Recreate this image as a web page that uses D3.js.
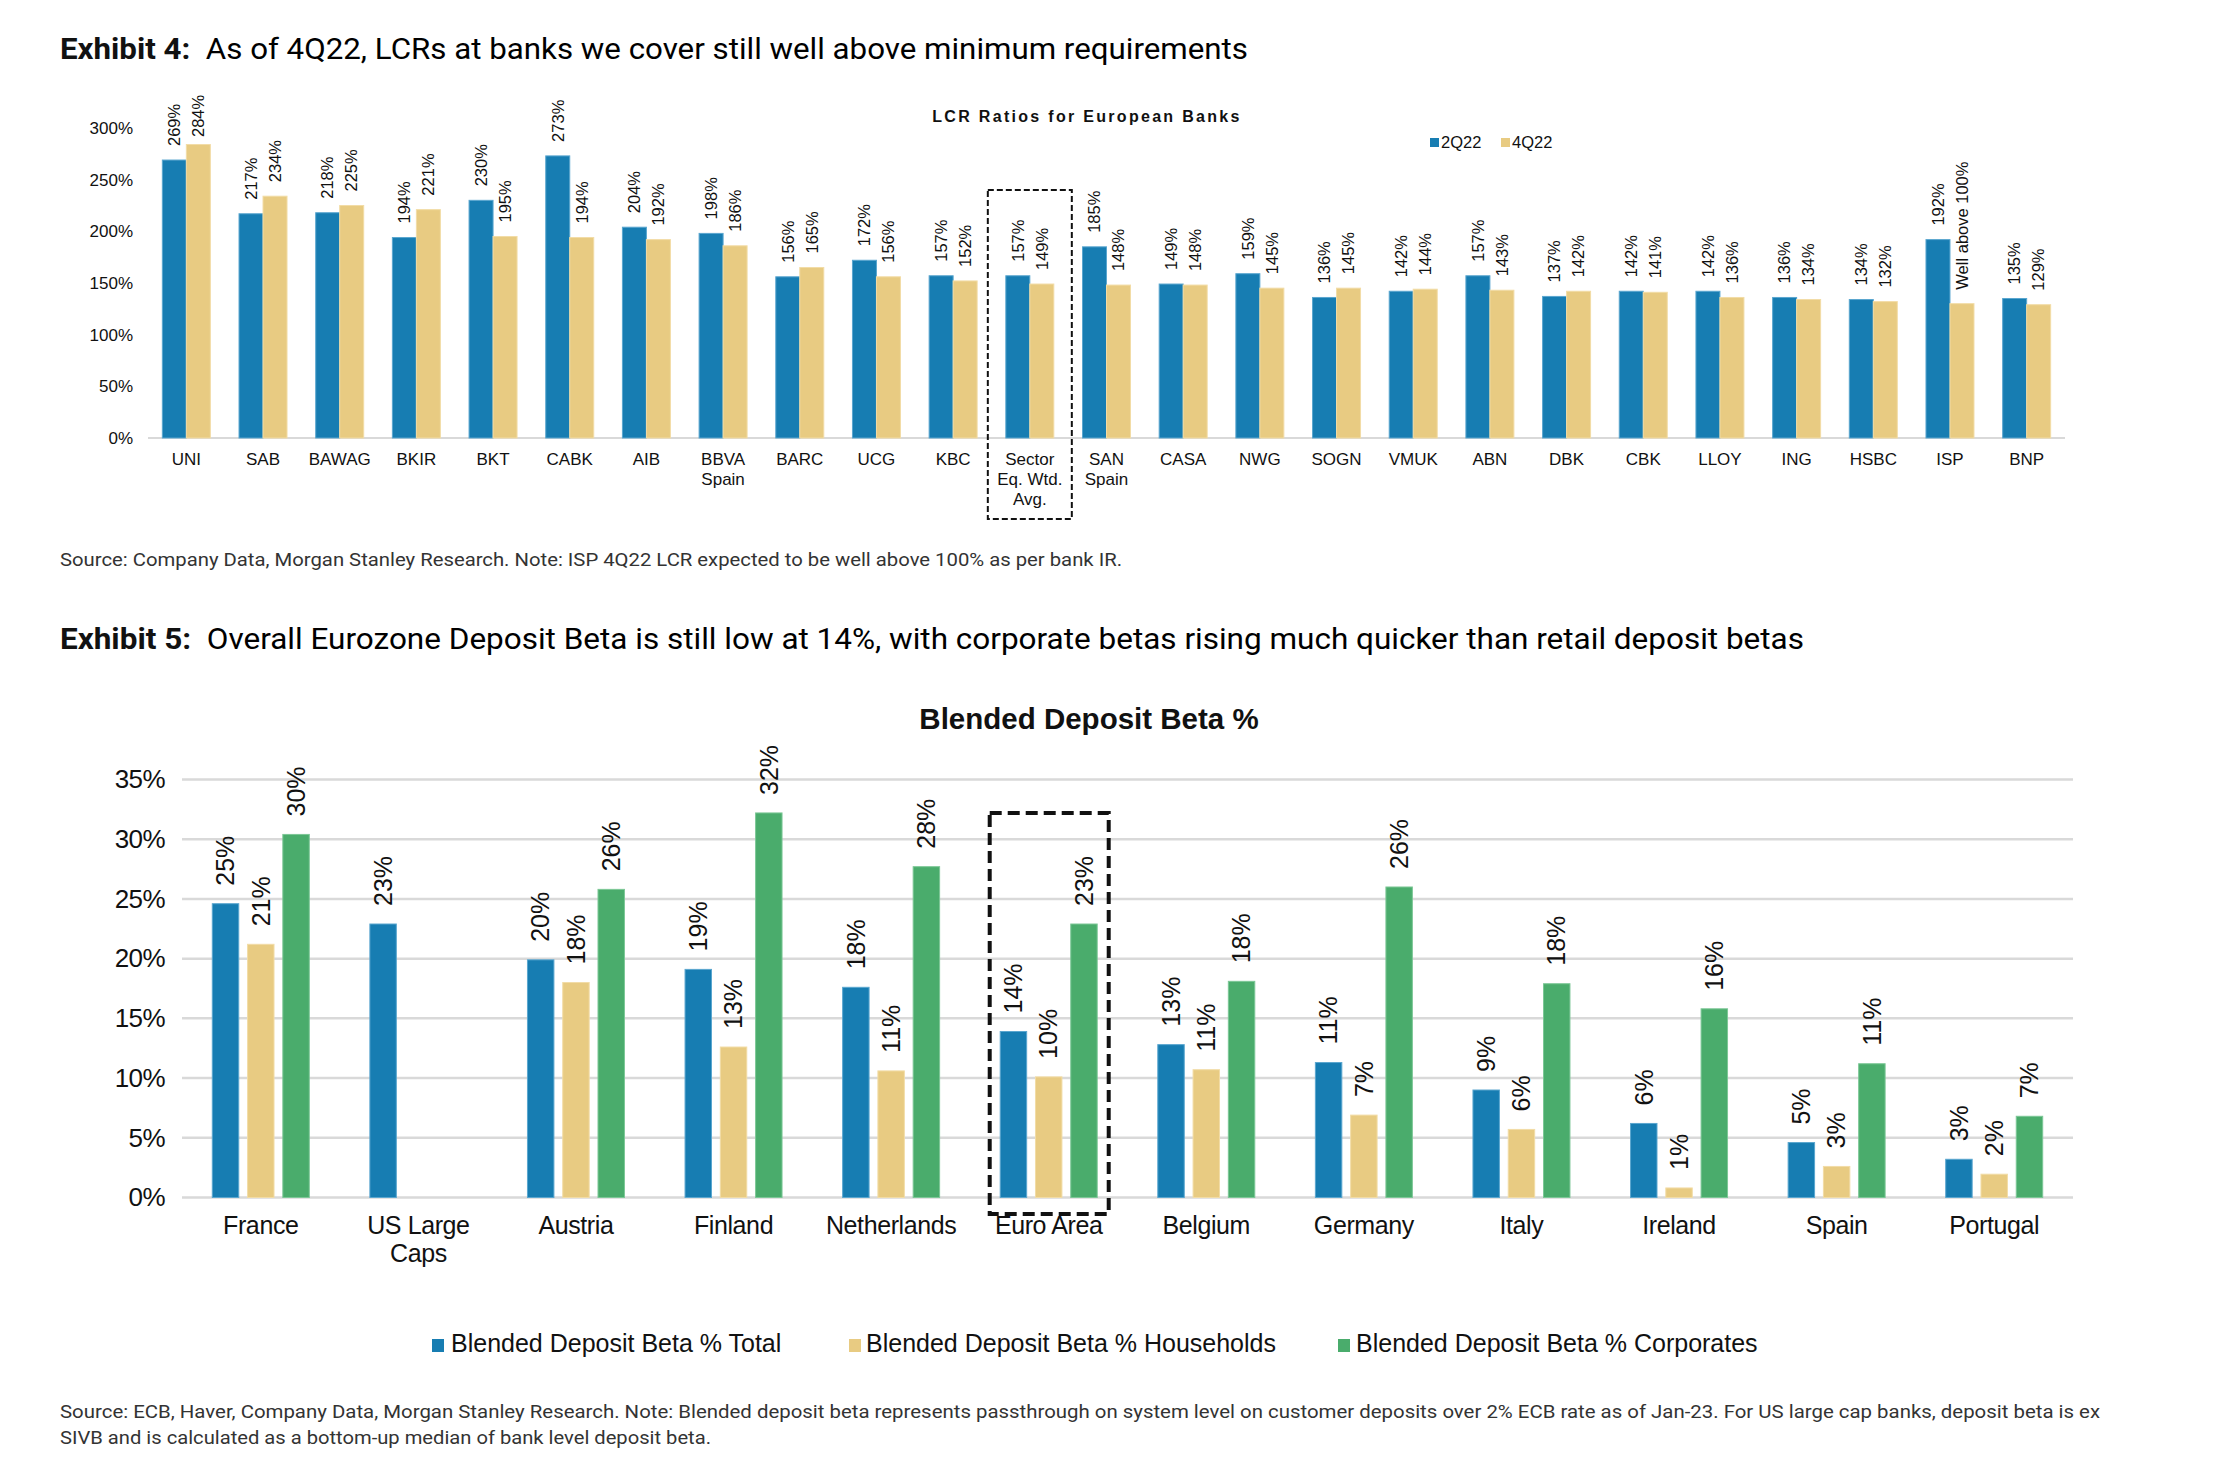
<!DOCTYPE html>
<html>
<head>
<meta charset="utf-8">
<script src="https://cdn.jsdelivr.net/npm/d3@7"></script>
<style>
  html, body { margin: 0; padding: 0; background: #fff; }
  svg { display: block; }
</style>
</head>
<body>
<svg id="chart" width="2238" height="1473"></svg>
<script>
// ---------------- DATA ----------------
// Exhibit 4: LCR ratios
const lcrCategories = ["UNI", "SAB", "BAWAG", "BKIR", "BKT", "CABK", "AIB", "BBVA\nSpain", "BARC", "UCG", "KBC",
  "Sector\nEq. Wtd.\nAvg.", "SAN\nSpain", "CASA", "NWG", "SOGN", "VMUK", "ABN", "DBK", "CBK", "LLOY", "ING", "HSBC", "ISP", "BNP"];
const lcr2Q22 = [269, 217, 218, 194, 230, 273, 204, 198, 156, 172, 157, 157, 185, 149, 159, 136, 142, 157, 137, 142, 142, 136, 134, 192, 135];
const lcr4Q22 = [284, 234, 225, 221, 195, 194, 192, 186, 165, 156, 152, 149, 148, 148, 145, 145, 144, 143, 142, 141, 136, 134, 132, 130, 129];
const lcr4Q22Labels = [null, null, null, null, null, null, null, null, null, null, null, null, null, null, null, null, null, null, null, null, null, null, null, "Well above 100%", null];
const lcrSeries = ["2Q22", "4Q22"];
const lcrTicks = [0, 50, 100, 150, 200, 250, 300];

// Exhibit 5: Blended deposit beta
const betaCategories = ["France", "US Large\nCaps", "Austria", "Finland", "Netherlands", "Euro Area", "Belgium", "Germany", "Italy", "Ireland", "Spain", "Portugal"];
const betaTotal      = [24.6, 22.9, 19.9, 19.1, 17.6, 13.9, 12.8, 11.3, 9.0, 6.2, 4.6, 3.2];
const betaHouseholds = [21.2, null, 18.0, 12.6, 10.6, 10.1, 10.7, 6.9, 5.7, 0.8, 2.6, 1.95];
const betaCorporates = [30.4, null, 25.8, 32.2, 27.7, 22.9, 18.1, 26.0, 17.9, 15.8, 11.2, 6.8];
const betaSeries = ["Blended Deposit Beta % Total", "Blended Deposit Beta % Households", "Blended Deposit Beta % Corporates"];
const betaTicks = [0, 5, 10, 15, 20, 25, 30, 35];

// ---------------- STYLE ----------------
const BLUE = "#177DB2", TAN = "#E8CB82", GREEN = "#4AAC6C";
const BLUE_EDGE = "#5aa6cf", TAN_EDGE = "#f2dca6", GREEN_EDGE = "#7cc796";
const SANS = "'Liberation Sans', Arial, sans-serif";
const TITLE_FONT = "Roboto, 'Liberation Sans', sans-serif";

const svg = d3.select("#chart");

// ---------- Titles & sources ----------
function titleText(x, y, bold, rest, width) {
  const t = svg.append("text")
    .attr("x", x).attr("y", y)
    .attr("font-family", TITLE_FONT).attr("font-size", 30).attr("fill", "#111")
    .attr("textLength", width).attr("lengthAdjust", "spacingAndGlyphs");
  t.append("tspan").attr("font-weight", 700).text(bold);
  t.append("tspan").attr("font-weight", 400).attr("fill", "#000").text("\u00a0\u00a0" + rest);
}
titleText(60, 59, "Exhibit 4:", "As of 4Q22, LCRs at banks we cover still well above minimum requirements", 1188);
titleText(60, 649, "Exhibit 5:", "Overall Eurozone Deposit Beta is still low at 14%, with corporate betas rising much quicker than retail deposit betas", 1744);

function sourceText(x, y, txt, width) {
  svg.append("text")
    .attr("x", x).attr("y", y)
    .attr("font-family", TITLE_FONT).attr("font-size", 19).attr("fill", "#333")
    .attr("textLength", width).attr("lengthAdjust", "spacingAndGlyphs")
    .text(txt);
}
sourceText(60, 566, "Source: Company Data, Morgan Stanley Research. Note: ISP 4Q22 LCR expected to be well above 100% as per bank IR.", 1062);
sourceText(60, 1418, "Source: ECB, Haver, Company Data, Morgan Stanley Research. Note: Blended deposit beta represents passthrough on system level on customer deposits over 2% ECB rate as of Jan-23. For US large cap banks, deposit beta is ex", 2040);
sourceText(60, 1444, "SIVB and is calculated as a bottom-up median of bank level deposit beta.", 651);

// ================= CHART 1 =================
(function () {
  const g = svg.append("g");
  const y = d3.scaleLinear().domain([0, 300]).range([438, 128]);
  const stepA = (2065 - 148) / lcrCategories.length;
  const piA = 1 - 48 / stepA;
  const x0 = d3.scaleBand().domain(lcrCategories).range([148, 2065]).paddingInner(piA).paddingOuter(piA / 2);
  const x1 = d3.scaleBand().domain(lcrSeries).range([0, x0.bandwidth()]).padding(0);

  // chart title
  g.append("text").attr("x", 1087).attr("y", 122).attr("text-anchor", "middle")
    .attr("font-family", SANS).attr("font-weight", 700).attr("font-size", 16)
    .attr("letter-spacing", "2.3px").attr("fill", "#111")
    .text("LCR Ratios for European Banks");

  // legend
  const leg = [{ name: "2Q22", color: BLUE, x: 1430 }, { name: "4Q22", color: TAN, x: 1501 }];
  leg.forEach(l => {
    g.append("rect").attr("x", l.x).attr("y", 138).attr("width", 9).attr("height", 9).attr("fill", l.color);
    g.append("text").attr("x", l.x + 11).attr("y", 147.5).attr("font-family", SANS).attr("font-size", 16.5)
      .attr("fill", "#111").text(l.name);
  });

  // y axis labels
  const yAxis = d3.axisLeft(y).tickValues(lcrTicks).tickFormat(d => d + "%").tickSize(0).tickPadding(0);
  const ya = g.append("g").attr("transform", "translate(133,0)").call(yAxis);
  ya.select(".domain").remove();
  ya.selectAll("text").attr("font-family", SANS).attr("font-size", 17).attr("fill", "#111");

  // baseline
  g.append("line").attr("x1", 148).attr("x2", 2065).attr("y1", y(0)).attr("y2", y(0))
    .attr("stroke", "#d9d9d9").attr("stroke-width", 2);

  // bars
  const rows = [];
  lcrCategories.forEach((c, i) => {
    rows.push({ cat: c, s: "2Q22", v: lcr2Q22[i], label: lcr2Q22[i] + "%", color: BLUE, edge: BLUE_EDGE });
    rows.push({ cat: c, s: "4Q22", v: lcr4Q22[i], label: lcr4Q22Labels[i] || (lcr4Q22[i] + "%"), color: TAN, edge: TAN_EDGE });
  });
  g.selectAll("rect.bar").data(rows).enter().append("rect")
    .attr("class", "bar")
    .attr("x", d => x0(d.cat) + x1(d.s))
    .attr("y", d => y(d.v))
    .attr("width", x1.bandwidth())
    .attr("height", d => y(0) - y(d.v))
    .attr("fill", d => d.color)
    .attr("stroke", d => d.edge).attr("stroke-width", 1);

  g.selectAll("text.vlab").data(rows).enter().append("text")
    .attr("class", "vlab")
    .attr("transform", d => `translate(${x0(d.cat) + x1(d.s) + x1.bandwidth() / 2},${Math.max(y(d.v) - 14, 137)}) rotate(-90)`)
    .attr("dy", "0.35em")
    .attr("font-family", SANS).attr("font-size", 16.5).attr("fill", "#111")
    .text(d => d.label);

  // category labels
  const xa = g.append("g");
  lcrCategories.forEach(c => {
    const lines = c.split("\n");
    const t = xa.append("text").attr("x", x0(c) + x0.bandwidth() / 2).attr("y", 465)
      .attr("text-anchor", "middle").attr("font-family", SANS).attr("font-size", 17).attr("fill", "#111");
    lines.forEach((ln, k) => t.append("tspan").attr("x", x0(c) + x0.bandwidth() / 2).attr("y", 465 + 20 * k).text(ln));
  });

  // dashed box around sector average
  const sc = lcrCategories[11];
  const cx = x0(sc) + x0.bandwidth() / 2;
  g.append("rect").attr("x", cx - 42).attr("y", 190).attr("width", 84).attr("height", 329)
    .attr("fill", "none").attr("stroke", "#111").attr("stroke-width", 2).attr("stroke-dasharray", "6,3");
})();

// ================= CHART 2 =================
(function () {
  const g = svg.append("g");
  const y = d3.scaleLinear().domain([0, 35]).range([1197.5, 779.5]);
  const piB = 1 - 97 / 157.6;
  const x0 = d3.scaleBand().domain(betaCategories).range([182, 2073]).paddingInner(piB).paddingOuter(piB / 2);
  const x1 = d3.scaleBand().domain(betaSeries).range([0, x0.bandwidth()]).paddingInner(0.25).paddingOuter(0);
  const colors = [BLUE, TAN, GREEN];
  const edges = [BLUE_EDGE, TAN_EDGE, GREEN_EDGE];
  const seriesVals = [betaTotal, betaHouseholds, betaCorporates];

  // title
  g.append("text").attr("x", 1089).attr("y", 729).attr("text-anchor", "middle")
    .attr("font-family", SANS).attr("font-weight", 700).attr("font-size", 29.5).attr("fill", "#111")
    .text("Blended Deposit Beta %");

  // gridlines
  g.selectAll("line.grid").data(betaTicks).enter().append("line")
    .attr("class", "grid")
    .attr("x1", 182).attr("x2", 2073)
    .attr("y1", d => y(d)).attr("y2", d => y(d))
    .attr("stroke", "#d9d9d9").attr("stroke-width", 2.5);

  // y axis labels
  const yAxis = d3.axisLeft(y).tickValues(betaTicks).tickFormat(d => d + "%").tickSize(0).tickPadding(0);
  const ya = g.append("g").attr("transform", "translate(165,0)").call(yAxis);
  ya.select(".domain").remove();
  ya.selectAll("text").attr("font-family", SANS).attr("font-size", 26).attr("fill", "#111").attr("letter-spacing", "-0.6px");

  // bars
  const rows = [];
  betaCategories.forEach((c, i) => {
    betaSeries.forEach((s, k) => {
      const v = seriesVals[k][i];
      if (v !== null) rows.push({ cat: c, s, v, color: colors[k], edge: edges[k] });
    });
  });
  g.selectAll("rect.bar").data(rows).enter().append("rect")
    .attr("class", "bar")
    .attr("x", d => x0(d.cat) + x1(d.s))
    .attr("y", d => y(d.v))
    .attr("width", x1.bandwidth())
    .attr("height", d => y(0) - y(d.v))
    .attr("fill", d => d.color)
    .attr("stroke", d => d.edge).attr("stroke-width", 1);

  g.selectAll("text.vlab").data(rows).enter().append("text")
    .attr("class", "vlab")
    .attr("transform", d => `translate(${x0(d.cat) + x1(d.s) + x1.bandwidth() / 2},${y(d.v) - 18}) rotate(-90)`)
    .attr("dy", "0.35em")
    .attr("font-family", SANS).attr("font-size", 25).attr("fill", "#111")
    .text(d => Math.round(d.v) + "%");

  // category labels
  betaCategories.forEach(c => {
    const lines = c.split("\n");
    const cx = x0(c) + x0.bandwidth() / 2;
    const t = g.append("text").attr("x", cx).attr("y", 1234)
      .attr("text-anchor", "middle").attr("font-family", SANS).attr("font-size", 25).attr("fill", "#111")
      .attr("letter-spacing", "-0.4px");
    lines.forEach((ln, k) => t.append("tspan").attr("x", cx).attr("y", 1234 + 28 * k).text(ln));
  });

  // dashed box around Euro Area
  const ec = x0("Euro Area") + x0.bandwidth() / 2;
  g.append("rect").attr("x", ec - 59).attr("y", 813).attr("width", 119).attr("height", 401)
    .attr("fill", "none").attr("stroke", "#111").attr("stroke-width", 4).attr("stroke-dasharray", "12,6");

  // legend
  const legX = [{ sx: 432, tx: 451 }, { sx: 849, tx: 866 }, { sx: 1338, tx: 1356 }];
  betaSeries.forEach((s, k) => {
    g.append("rect").attr("x", legX[k].sx).attr("y", 1339).attr("width", 12).attr("height", 13).attr("fill", colors[k]);
    g.append("text").attr("x", legX[k].tx).attr("y", 1352).attr("font-family", SANS).attr("font-size", 25)
      .attr("fill", "#111").text(s);
  });
})();
</script>
</body>
</html>
